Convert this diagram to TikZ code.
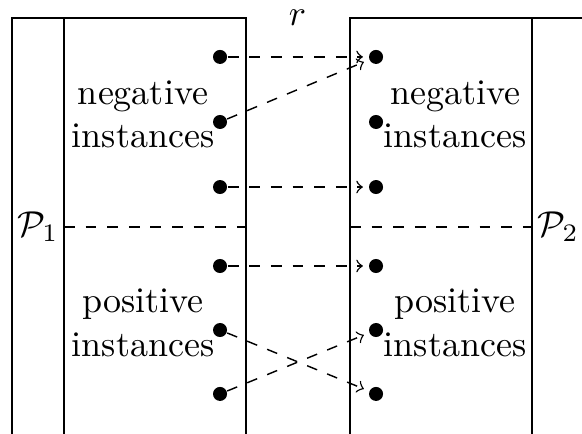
\documentclass[tikz,border=0pt]{standalone}
\usepackage{amsmath,amssymb}

\begin{document}
\begin{tikzpicture}[dot/.style={circle,fill,inner sep=0pt,minimum size=3.9pt},
  lab/.style={align=center,inner sep=0pt},map/.style={->,dashed,shorten >=1.5pt}]
\useasboundingbox (0,0) rectangle (5.682,4.237);
% the two partitions
\draw (0.117,0) |- (2.402,4.061) -- (2.402,0);\draw (0.625,0)--(0.625,4.061);
\draw (3.417,0) |- (5.702,4.061) -- (5.702,0);\draw (5.194,0)--(5.194,4.061);
\draw[dashed] (0.625,2.021)--(2.402,2.021);\draw[dashed] (3.417,2.021)--(5.194,2.021);
\node (p1) at (0.371,2.021) {$\mathcal{P}_1$};
\node (p2) at (5.448,2.021) {$\mathcal{P}_2$};
\node (r) at (2.905,4.061) {$r$};
\node[lab] (negl) at (1.396,3.124) {negative\\instances};
\node[lab] (posl) at (1.396,1.084) {positive\\instances};
\node[lab] (negr) at (4.442,3.124) {negative\\instances};
\node[lab] (posr) at (4.442,1.084) {positive\\instances};
% instances
\node[dot] (l1) at (2.148,3.681) {};\node[dot] (r1) at (3.671,3.681) {};
\node[dot] (l2) at (2.148,3.046) {};\node[dot] (r2) at (3.671,3.046) {};
\node[dot] (l3) at (2.148,2.411) {};\node[dot] (r3) at (3.671,2.411) {};
\node[dot] (l4) at (2.148,1.640) {};\node[dot] (r4) at (3.671,1.640) {};
\node[dot] (l5) at (2.148,1.015) {};\node[dot] (r5) at (3.671,1.015) {};
\node[dot] (l6) at (2.148,0.391) {};\node[dot] (r6) at (3.671,0.391) {};
% the mapping r
\draw[map] (l1)--(r1);\draw[map] (l2)--(r1);\draw[map] (l3)--(r3);
\draw[map] (l4)--(r4);\draw[map] (l5)--(r6);\draw[map] (l6)--(r5);
\end{tikzpicture}
\end{document}
